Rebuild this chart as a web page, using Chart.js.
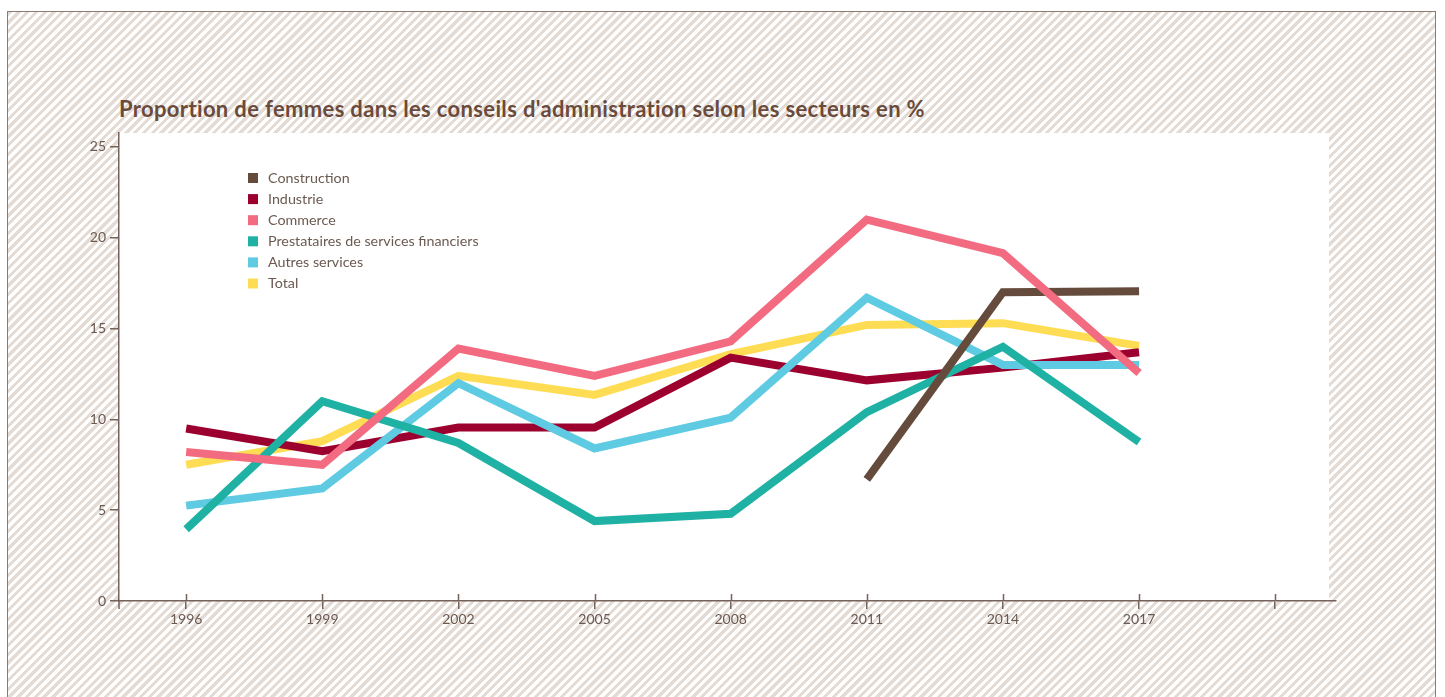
<!DOCTYPE html>
<html>
<head>
<meta charset="utf-8">
<script src="https://cdn.jsdelivr.net/npm/chart.js@4.4.1/dist/chart.umd.min.js"></script>
<style>
  html, body { margin: 0; padding: 0; background: #fff; }
  body { width: 1445px; height: 697px; position: relative; overflow: hidden; }
  #frame {
    position: absolute; left: 7px; top: 11px; width: 1427px; height: 720px;
    border: 1.5px solid #8c7b72;
    background: repeating-linear-gradient(135deg, #e4dbd4 0 3.1px, #fff 3.1px 6.2px);
  }
  #title {
    position: absolute; left: 119px; top: 95px;
    font: bold 22px Lato; letter-spacing: 0.35px; font-variant-ligatures: none;
    color: #6a4b3c; white-space: nowrap;
  }
  #chart { position: absolute; left: 0; top: 0; }
</style>
</head>
<body>
<div id="frame"></div>
<div id="title">Proportion de femmes dans les conseils d'administration selon les secteurs en %</div>
<canvas id="chart" width="1445" height="697"></canvas>
<script>
  // data
  const years = [1996, 1999, 2002, 2005, 2008, 2011, 2014, 2017];
  const tickYears = [1996, 1999, 2002, 2005, 2008, 2011, 2014, 2017, 2020];
  const yTicks = [0, 5, 10, 15, 20, 25];

  const construction = [null, null, null, null, null, 6.7, 17.0, 17.05];
  const industrie    = [9.5, 8.25, 9.55, 9.55, 13.4, 12.15, 12.85, 13.7];
  const commerce     = [8.2, 7.5, 13.9, 12.4, 14.3, 21.0, 19.15, 12.55];
  const prestataires = [3.95, 11.0, 8.7, 4.4, 4.8, 10.4, 14.0, 8.75];
  const autres       = [5.25, 6.2, 12.0, 8.4, 10.1, 16.7, 13.0, 13.0];
  const total        = [7.5, 8.8, 12.4, 11.35, 13.6, 15.2, 15.3, 14.05];

  const AXIS = '#75625a';
  const TEXT = '#6b5a50';

  function series(label, values, color, order) {
    return {
      label: label,
      data: years.map((y, i) => ({ x: y, y: values[i] })),
      borderColor: color,
      backgroundColor: color,
      borderWidth: 8,
      borderCapStyle: 'butt',
      borderJoinStyle: 'miter',
      pointRadius: 0,
      tension: 0,
      spanGaps: false,
      order: order
    };
  }

  const datasets = [
    series('Construction', construction, '#654b3c', 2),
    series('Industrie', industrie, '#9b002f', 5),
    series('Commerce', commerce, '#f26b80', 1),
    series('Prestataires de services financiers', prestataires, '#1fb1a3', 3),
    series('Autres services', autres, '#5ecbe3', 4),
    series('Total', total, '#fedd55', 6)
  ];

  // white plot panel, inner half of x ticks, legend
  const paper = {
    id: 'paper',
    beforeDraw(chart) {
      const a = chart.chartArea, ctx = chart.ctx;
      ctx.save();
      ctx.fillStyle = '#fff';
      ctx.fillRect(a.left, a.top, a.right - a.left - 7, a.bottom - a.top);
      ctx.restore();
    },
    afterDraw(chart) {
      const a = chart.chartArea, ctx = chart.ctx, xs = chart.scales.x;
      ctx.save();
      ctx.strokeStyle = AXIS;
      ctx.lineWidth = 1.5;
      ctx.beginPath();
      xs.ticks.forEach(t => {
        const px = Math.round(xs.getPixelForValue(t.value)) + 0.5;
        ctx.moveTo(px, a.bottom);
        ctx.lineTo(px, a.bottom - 7);
      });
      ctx.moveTo(a.left, a.bottom);
      ctx.lineTo(a.left, a.bottom + 8);
      ctx.stroke();

      // legend
      ctx.font = '14.3px Lato';
      ctx.textBaseline = 'middle';
      chart.data.datasets.forEach((ds, i) => {
        const y = 178 + i * 21.1;
        ctx.fillStyle = ds.borderColor;
        ctx.fillRect(248, y - 5, 10, 10);
        ctx.fillStyle = TEXT;
        ctx.fillText(ds.label, 268, y);
      });
      ctx.restore();
    }
  };

  new Chart(document.getElementById('chart'), {
    type: 'line',
    data: { datasets: datasets },
    plugins: [paper],
    options: {
      responsive: false,
      animation: false,
      devicePixelRatio: 1,
      layout: { padding: { left: 0, top: 133, right: 109, bottom: 56 } },
      plugins: { legend: { display: false }, tooltip: { enabled: false } },
      scales: {
        x: {
          type: 'linear',
          min: 1994.52,
          max: 2021.34,
          afterBuildTicks: s => { s.ticks = tickYears.map(v => ({ value: v })); },
          afterFit: s => { s.height = 40; },
          grid: { drawOnChartArea: false, drawTicks: true, tickLength: 8, color: AXIS, lineWidth: 1.5 },
          border: { color: AXIS, width: 1.5 },
          ticks: {
            color: TEXT, font: { family: 'Lato', size: 14 }, padding: 2,
            autoSkip: false, maxRotation: 0,
            callback: v => (v === 2020 ? '' : String(v))
          }
        },
        y: {
          min: 0,
          max: 25.77,
          afterBuildTicks: s => { s.ticks = yTicks.map(v => ({ value: v })); },
          afterFit: s => { s.width = 119; },
          grid: { drawOnChartArea: false, drawTicks: true, tickLength: 9, color: AXIS, lineWidth: 1.5 },
          border: { color: AXIS, width: 1.5 },
          ticks: { color: TEXT, font: { family: 'Lato', size: 14 }, padding: 4 }
        }
      }
    }
  });
</script>
</body>
</html>
